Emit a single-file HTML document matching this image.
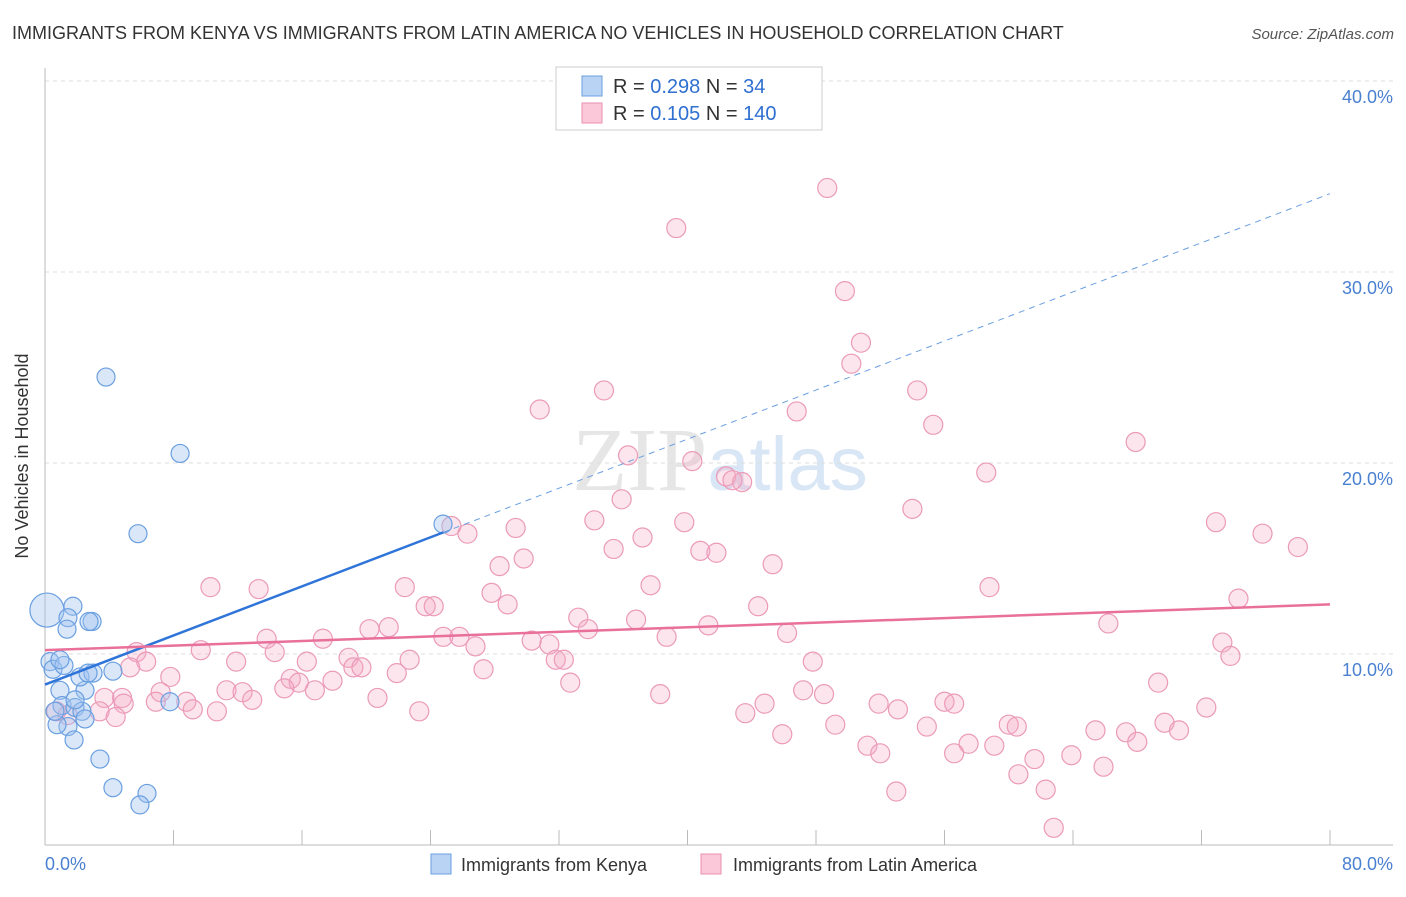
<!DOCTYPE html>
<html><head><meta charset="utf-8"><style>
body{margin:0;background:#fff;font-family:"Liberation Sans",sans-serif;}
</style></head><body>
<svg width="1406" height="892" xmlns="http://www.w3.org/2000/svg" font-family="Liberation Sans, sans-serif">
<text x="12" y="39" font-size="18" fill="#333">IMMIGRANTS FROM KENYA VS IMMIGRANTS FROM LATIN AMERICA NO VEHICLES IN HOUSEHOLD CORRELATION CHART</text>
<text x="1394" y="39" font-size="15" fill="#555" font-style="italic" text-anchor="end">Source: ZipAtlas.com</text>
<text x="720" y="490" font-size="90" fill="#e6e6e6" text-anchor="middle" font-family="Liberation Serif, serif">ZIP<tspan fill="#d8e6f5" font-family="Liberation Sans, sans-serif" font-size="76">atlas</tspan></text>
<g id="grid"></g>
<g id="axes"></g>
<g id="marks"></g>
<text x="28" y="456" font-size="18" fill="#333" text-anchor="middle" transform="rotate(-90 28 456)">No Vehicles in Household</text>
<text x="45" y="870" font-size="18" fill="#4a80d0">0.0%</text>
<text x="1393" y="870" font-size="18" fill="#4a80d0" text-anchor="end">80.0%</text>
<g>
<rect x="556" y="67" width="266" height="63" fill="#fff" stroke="#ccc"/>
<rect x="582" y="76" width="20" height="20" fill="#b9d3f5" stroke="#6a9fe0"/>
<rect x="582" y="103" width="20" height="20" fill="#fac8d8" stroke="#e890b0"/>
<text x="613" y="93" font-size="20" fill="#333">R = <tspan fill="#2f6fd0">0.298</tspan>   N =  <tspan fill="#2f6fd0"> 34</tspan></text>
<text x="613" y="120" font-size="20" fill="#333">R = <tspan fill="#2f6fd0">0.105</tspan>   N = <tspan fill="#2f6fd0">140</tspan></text>
</g>
<g>
<rect x="431" y="854" width="20" height="20" fill="#b9d3f5" stroke="#6a9fe0"/>
<text x="461" y="871" font-size="18" fill="#333">Immigrants from Kenya</text>
<rect x="701" y="854" width="20" height="20" fill="#fac8d8" stroke="#e890b0"/>
<text x="733" y="871" font-size="18" fill="#333">Immigrants from Latin America</text>
</g>
</svg>
<script>
const yTicks=[10,20,30,40];
const xTicks=[0,8,16,24,32,40,48,56,64,72,80];
const kenyaX=[0.12,1.74,1.43,2.93,2.74,1.37,0.31,0.5,1.18,0.93,2.49,2.18,2.99,4.23,1.06,1.87,2.3,1.43,0.75,2.49,1.81,3.42,4.23,6.35,5.91,3.8,8.41,5.79,24.78,7.78,2.68,0.62,1.87,0.93];
const kenyaY=[12.3,12.5,11.9,11.7,11.7,11.3,9.6,9.2,9.4,8.1,8.1,8.8,9.0,9.1,7.3,7.2,7.0,6.2,6.3,6.6,5.5,4.5,3.0,2.7,2.1,24.5,20.5,16.3,16.8,7.5,9.0,7.0,7.6,9.7];
const latinX=[48.7,39.3,49.8,50.8,50.2,34.8,54.3,30.8,46.8,55.3,67.9,36.3,40.3,42.4,43.4,42.8,58.6,35.9,54.0,34.2,39.8,72.9,25.3,29.3,26.3,75.8,37.2,78.0,35.4,40.8,41.8,29.8,28.3,45.3,37.7,22.4,10.3,13.3,58.8,27.8,74.3,28.8,23.7,24.2,44.4,33.2,36.8,66.2,41.3,21.4,20.2,33.8,46.2,24.8,25.8,38.7,13.8,17.3,30.3,73.3,26.8,31.4,5.7,9.7,14.3,18.9,73.8,6.3,11.9,16.3,22.7,31.8,32.3,19.2,19.7,47.8,5.3,21.9,27.3,7.8,15.3,15.8,17.9,32.7,69.3,7.2,11.3,12.3,14.9,16.8,38.3,47.2,48.5,3.7,4.8,20.7,6.9,8.8,12.9,4.9,56.0,56.6,72.3,44.8,51.9,53.1,9.2,10.7,23.3,43.6,0.7,3.4,4.4,1.4,49.2,54.9,60.0,60.5,69.7,70.6,65.4,67.3,45.9,68.0,57.5,59.1,51.2,52.0,56.6,63.9,61.6,65.9,60.6,53.0,62.3,62.8];
const latinY=[34.4,32.3,29.0,26.3,25.2,23.8,23.8,22.8,22.7,22.0,21.1,20.4,20.1,19.3,19.0,19.1,19.5,18.1,17.6,17.0,16.9,16.9,16.7,16.6,16.3,16.3,16.1,15.6,15.5,15.4,15.3,15.0,14.6,14.7,13.6,13.5,13.5,13.4,13.5,13.2,12.9,12.6,12.5,12.5,12.5,11.9,11.8,11.6,11.5,11.4,11.3,11.3,11.1,10.9,10.9,10.9,10.8,10.8,10.7,10.6,10.4,10.5,10.1,10.2,10.1,9.8,9.9,9.6,9.6,9.6,9.7,9.7,9.7,9.3,9.3,9.6,9.3,9.0,9.2,8.8,8.7,8.5,8.6,8.5,8.5,8.0,8.1,8.0,8.2,8.1,7.9,8.1,7.9,7.7,7.7,7.7,7.5,7.5,7.6,7.4,7.5,7.4,7.2,7.4,7.4,7.1,7.1,7.0,7.0,6.9,7.0,7.0,6.7,6.8,6.3,6.2,6.3,6.2,6.4,6.0,6.0,5.9,5.8,5.4,5.3,5.2,5.2,4.8,4.8,4.7,4.5,4.1,3.7,2.8,2.9,0.9];
const kenyaTrend=[8.4,34.1];
const latinTrend=[10.2,12.6];
const NS='http://www.w3.org/2000/svg';
const X=v=>45+v/80*1285;
const Y=v=>845-v*19.1;
function mk(t,a,p){const e=document.createElementNS(NS,t);for(const k in a)e.setAttribute(k,a[k]);p.appendChild(e);return e;}
const grid=document.getElementById('grid'),axes=document.getElementById('axes'),marks=document.getElementById('marks');
yTicks.forEach(v=>{
 const l=mk('line',{x1:45,x2:1393,y1:Y(v),y2:Y(v),stroke:'#ddd','stroke-dasharray':'4,4'},grid);
 
 
 const t=mk('text',{x:1393,y:Y(v)+22,'font-size':18,fill:'#4a80d0','text-anchor':'end'},grid);
 t.textContent=v.toFixed(1)+'%';
 
 
});
const ax=mk('line',{x1:45,x2:45,y1:68,y2:845,stroke:'#bbb'},axes);


const bx=mk('line',{x1:45,x2:1393,y1:845,y2:845,stroke:'#bbb'},axes);


xTicks.forEach(v=>{
 const t=mk('line',{x1:X(v),x2:X(v),y1:830,y2:845,stroke:'#bbb'},axes);
 
 
});
latinX.forEach((v,i)=>{
 const c=mk('circle',{cx:X(v),cy:Y(latinY[i]),r:9.5,fill:'rgba(245,170,195,0.3)',stroke:'#eb9ab8','stroke-width':1.2},marks);
 
 
});
kenyaX.forEach((v,i)=>{
 const c=mk('circle',{cx:X(v),cy:Y(kenyaY[i]),r:i===0?17:9,fill:'rgba(160,196,240,0.4)',stroke:'#6a9fe0','stroke-width':1.2},marks);
 
 
});
const kxEnd=24.8, kAt=x=>kenyaTrend[0]+(kenyaTrend[1]-kenyaTrend[0])*x/80;
const k1=mk('line',{x1:X(0),y1:Y(kAt(0)),x2:X(kxEnd),y2:Y(kAt(kxEnd)),stroke:'#2f74d8','stroke-width':2.5},marks);


const k2=mk('line',{x1:X(kxEnd),y1:Y(kAt(kxEnd)),x2:X(80),y2:Y(kAt(80)),stroke:'#6a9fe0','stroke-width':1,'stroke-dasharray':'6,5'},marks);


const lt=mk('line',{x1:X(0),y1:Y(latinTrend[0]),x2:X(80),y2:Y(latinTrend[1]),stroke:'#e8709a','stroke-width':2.5},marks);


</script>
</body></html>
